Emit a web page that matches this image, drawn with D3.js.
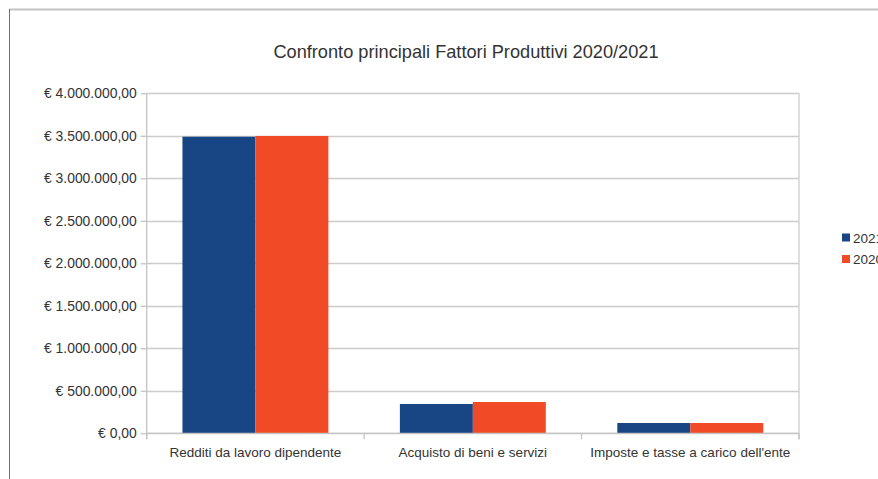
<!DOCTYPE html>
<html>
<head>
<meta charset="utf-8">
<script src="https://cdn.jsdelivr.net/npm/d3@7"></script>
<style>
  html, body { margin: 0; padding: 0; background: #fff; }
  svg { display: block; font-family: "Liberation Sans", Arial, sans-serif; }
</style>
</head>
<body>
<svg id="chart" width="878" height="479"></svg>
<script>
const title = "Confronto principali Fattori Produttivi 2020/2021";
const categories = ["Redditi da lavoro dipendente", "Acquisto di beni e servizi", "Imposte e tasse a carico dell'ente"];
const seriesNames = ["2021", "2020"];
const values2021 = [3489000, 345000, 121000];
const values2020 = [3498000, 368000, 121000];
const seriesColors = ["#184584", "#f14a26"];
const yTicks = [0, 500000, 1000000, 1500000, 2000000, 2500000, 3000000, 3500000, 4000000];

const seriesValues = [values2021, values2020];
const svg = d3.select("#chart");
const W = 878, H = 479;
const margin = { left: 146.7, right: W - 799, top: 93.3, bottom: H - 433.3 };

// page frame
svg.append("line").attr("x1", 9).attr("x2", W).attr("y1", 9.5).attr("y2", 9.5)
  .attr("stroke", "#c4c4c4").attr("stroke-width", 2);
svg.append("line").attr("x1", 9.5).attr("x2", 9.5).attr("y1", 9).attr("y2", H)
  .attr("stroke", "#707070").attr("stroke-width", 1);

const x0 = d3.scaleBand().domain(categories).range([margin.left, W - margin.right]).padding(0);
const x1 = d3.scaleBand().domain(seriesNames).range([0, x0.bandwidth()]).paddingInner(0).paddingOuter(0.49);
const y = d3.scaleLinear().domain([0, 4000000]).range([H - margin.bottom, margin.top]);

const fmt = v => "€ " + d3.format(",.2f")(v).replace(/,/g, "#").replace(/\./g, ",").replace(/#/g, ".");

// gridlines
svg.append("g").selectAll("line").data(yTicks).join("line")
  .attr("x1", margin.left).attr("x2", W - margin.right)
  .attr("y1", d => Math.round(y(d)) + 0.5).attr("y2", d => Math.round(y(d)) + 0.5)
  .attr("stroke", "#cccccc").attr("stroke-width", 1.3);

// right border of plot
svg.append("line").attr("x1", W - margin.right).attr("x2", W - margin.right)
  .attr("y1", margin.top).attr("y2", H - margin.bottom + 6)
  .attr("stroke", "#cccccc").attr("stroke-width", 1.3);

// bars
categories.forEach((c, i) => {
  seriesNames.forEach((s, j) => {
    svg.append("rect")
      .attr("x", x0(c) + x1(s))
      .attr("width", x1.bandwidth())
      .attr("y", y(seriesValues[j][i]))
      .attr("height", y(0) - y(seriesValues[j][i]))
      .attr("fill", seriesColors[j]);
  });
});

// y axis
const yAxis = d3.axisLeft(y).tickValues(yTicks).tickSize(6).tickPadding(4).tickFormat(fmt);
const gy = svg.append("g").attr("transform", `translate(${margin.left},0)`).call(yAxis);
gy.select(".domain").remove();
gy.append("line").attr("x1", 0).attr("x2", 0).attr("y1", margin.top).attr("y2", H - margin.bottom + 6)
  .attr("stroke", "#c4c4c4").attr("stroke-width", 1.3);
gy.selectAll(".tick line").attr("stroke", "#c4c4c4").attr("stroke-width", 1.3);
gy.selectAll(".tick text").attr("fill", "#333").attr("font-size", 13.9).attr("font-family", "Liberation Sans, Arial, sans-serif");

// x axis
const gx = svg.append("g").attr("transform", `translate(0,${H - margin.bottom})`);
gx.append("line").attr("x1", margin.left).attr("x2", W - margin.right).attr("y1", 0).attr("y2", 0)
  .attr("stroke", "#c4c4c4").attr("stroke-width", 1.3);
const bounds = categories.map(c => x0(c)).concat([x0(categories[categories.length - 1]) + x0.bandwidth()]);
gx.selectAll("line.sep").data(bounds).join("line").attr("class", "sep")
  .attr("x1", d => d).attr("x2", d => d).attr("y1", 0).attr("y2", 6)
  .attr("stroke", "#c4c4c4").attr("stroke-width", 1.3);
gx.selectAll("text").data(categories).join("text")
  .attr("x", d => x0(d) + x0.bandwidth() / 2).attr("y", 23.5)
  .attr("text-anchor", "middle").attr("fill", "#333").attr("font-size", 13.5)
  .text(d => d);

// title
svg.append("text").attr("x", 466).attr("y", 58).attr("text-anchor", "middle")
  .attr("fill", "#333").attr("font-size", 18.2).text(title);

// legend
const lg = svg.append("g").selectAll("g").data(seriesNames).join("g")
  .attr("transform", (d, i) => `translate(842,${233.5 + i * 21.5})`);
lg.append("rect").attr("width", 8).attr("height", 8).attr("fill", (d, i) => seriesColors[i]);
lg.append("text").attr("x", 11).attr("y", 9).attr("font-size", 13.5).attr("fill", "#333").text(d => d);
</script>
</body>
</html>
